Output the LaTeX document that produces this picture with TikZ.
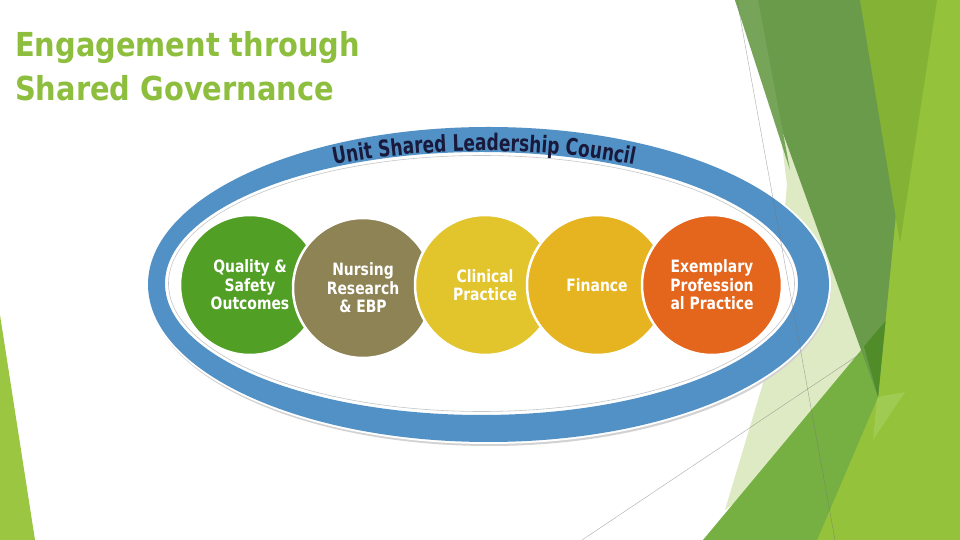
\documentclass[tikz,border=0pt]{standalone}
\usepackage{fontspec}
\usetikzlibrary{decorations.text}
\newfontfamily\titlefont[FakeStretch=0.875]{DejaVu Sans}
\newfontfamily\circfont[FakeStretch=0.82]{DejaVu Sans}
\newfontfamily\arcfont[FakeStretch=0.74]{DejaVu Sans}
\definecolor{ringblue}{RGB}{82,145,198}
\definecolor{cgreen}{RGB}{81,159,37}
\definecolor{colive}{RGB}{141,131,84}
\definecolor{cyellow}{RGB}{226,196,44}
\definecolor{cgold}{RGB}{229,180,32}
\definecolor{corange}{RGB}{228,101,28}
\definecolor{titlegreen}{RGB}{141,190,62}
\definecolor{arcnavy}{RGB}{25,25,60}
\definecolor{fdark}{RGB}{106,155,74}
\definecolor{fdarklight}{RGB}{118,164,88}
\definecolor{fmid}{RGB}{132,178,52}
\definecolor{flight}{RGB}{148,194,58}
\definecolor{fmed}{RGB}{118,176,67}
\definecolor{fpale}{RGB}{222,234,196}
\definecolor{fpale2}{RGB}{160,203,82}
\definecolor{ftip}{RGB}{80,140,40}
\definecolor{fleft}{RGB}{155,198,65}
\begin{document}
\begin{tikzpicture}[x=1pt,y=1pt,
  circ/.style={circle, minimum size=140pt, inner sep=0pt, draw=white, line width=2.5pt,
    text=white, align=center, font=\circfont\bfseries\fontsize{17}{18.5}\selectfont},
  titletext/.style={anchor=base west, inner sep=0pt, text=titlegreen,
    font=\titlefont\bfseries\fontsize{33}{40}\selectfont},
  thinline/.style={draw=black!55, line width=0.4pt, opacity=0.6}]
\fill[white] (0,0) rectangle (960,540);
\useasboundingbox (0,0) rectangle (960,540);
% background facets
\fill[fleft] (0,225) -- (0,0) -- (35,0) -- cycle;
\fill[flight] (880,540) -- (960,540) -- (960,0) -- (780,0) -- (878,143) -- cycle;
\fill[fpale] (779,420) -- (787,355) -- (770,180) -- (725,30) -- (878,143) -- (870,420) -- cycle;
\fill[fpale2] (877,143) -- (905,148) -- (873,100) -- cycle;
\fill[fmed] (703,0) -- (885.5,219) -- (878,143) -- (817,0) -- cycle;
\fill[fdark] (735,540) -- (917,540) -- (878,143) -- cycle;
\fill[fdarklight] (735,540) -- (758,540) -- (790,370) -- cycle;
\fill[ftip] (885.5,219) -- (864,193.5) -- (878,143) -- cycle;
\fill[fmid] (860,540) -- (937,540) -- (900,297) -- cycle;
% ring with shadow and outline
\fill[gray!35] (489.5,252.5) ellipse[x radius=341.5pt, y radius=158.5pt];
\fill[white] (488.5,255.5) ellipse[x radius=342.5pt, y radius=159.5pt];
\fill[ringblue, even odd rule] (488.5,255.5) ellipse[x radius=340.5pt, y radius=157.5pt]
  (481.5,256.5) ellipse[x radius=316.5pt, y radius=131.5pt];
\draw[gray!45, line width=0.6pt] (481.5,256.5) ellipse[x radius=313pt, y radius=128pt];
% circles
\node[circ, fill=cgreen] (qs) at (250,255) {Quality \&\\Safety\\Outcomes};
\node[circ, fill=colive] (nr) at (363,252) {Nursing\\Research\\\& EBP};
\node[circ, fill=cyellow] (cp) at (485,255) {Clinical\\Practice};
\node[circ, fill=cgold] (fi) at (597,255) {Finance};
\node[circ, fill=corange] (ep) at (712,255) {Exemplary\\Profession\\al Practice};
% arched title of the ring
\path[decorate, decoration={text along path, text align=center, text color=arcnavy,
  text={|\arcfont\bfseries\fontsize{23}{23}\selectfont|Unit Shared Leadership Council}}]
  ([shift={(484,254)}]158:340pt and 135pt) arc[start angle=158, end angle=22, x radius=340pt, y radius=135pt];
% thin facet lines
\coordinate (l1a) at (737,540);
\coordinate (l1b) at (835,0);
\coordinate (l2a) at (582,0);
\coordinate (l2b) at (860,186);
\draw[thinline] (l1a) -- (l1b);
\draw[thinline] (l2a) -- (l2b);
% slide title
\node[titletext] (t1) at (15,483) {Engagement through};
\node[titletext] (t2) at (15,439) {Shared Governance};
\end{tikzpicture}
\end{document}
